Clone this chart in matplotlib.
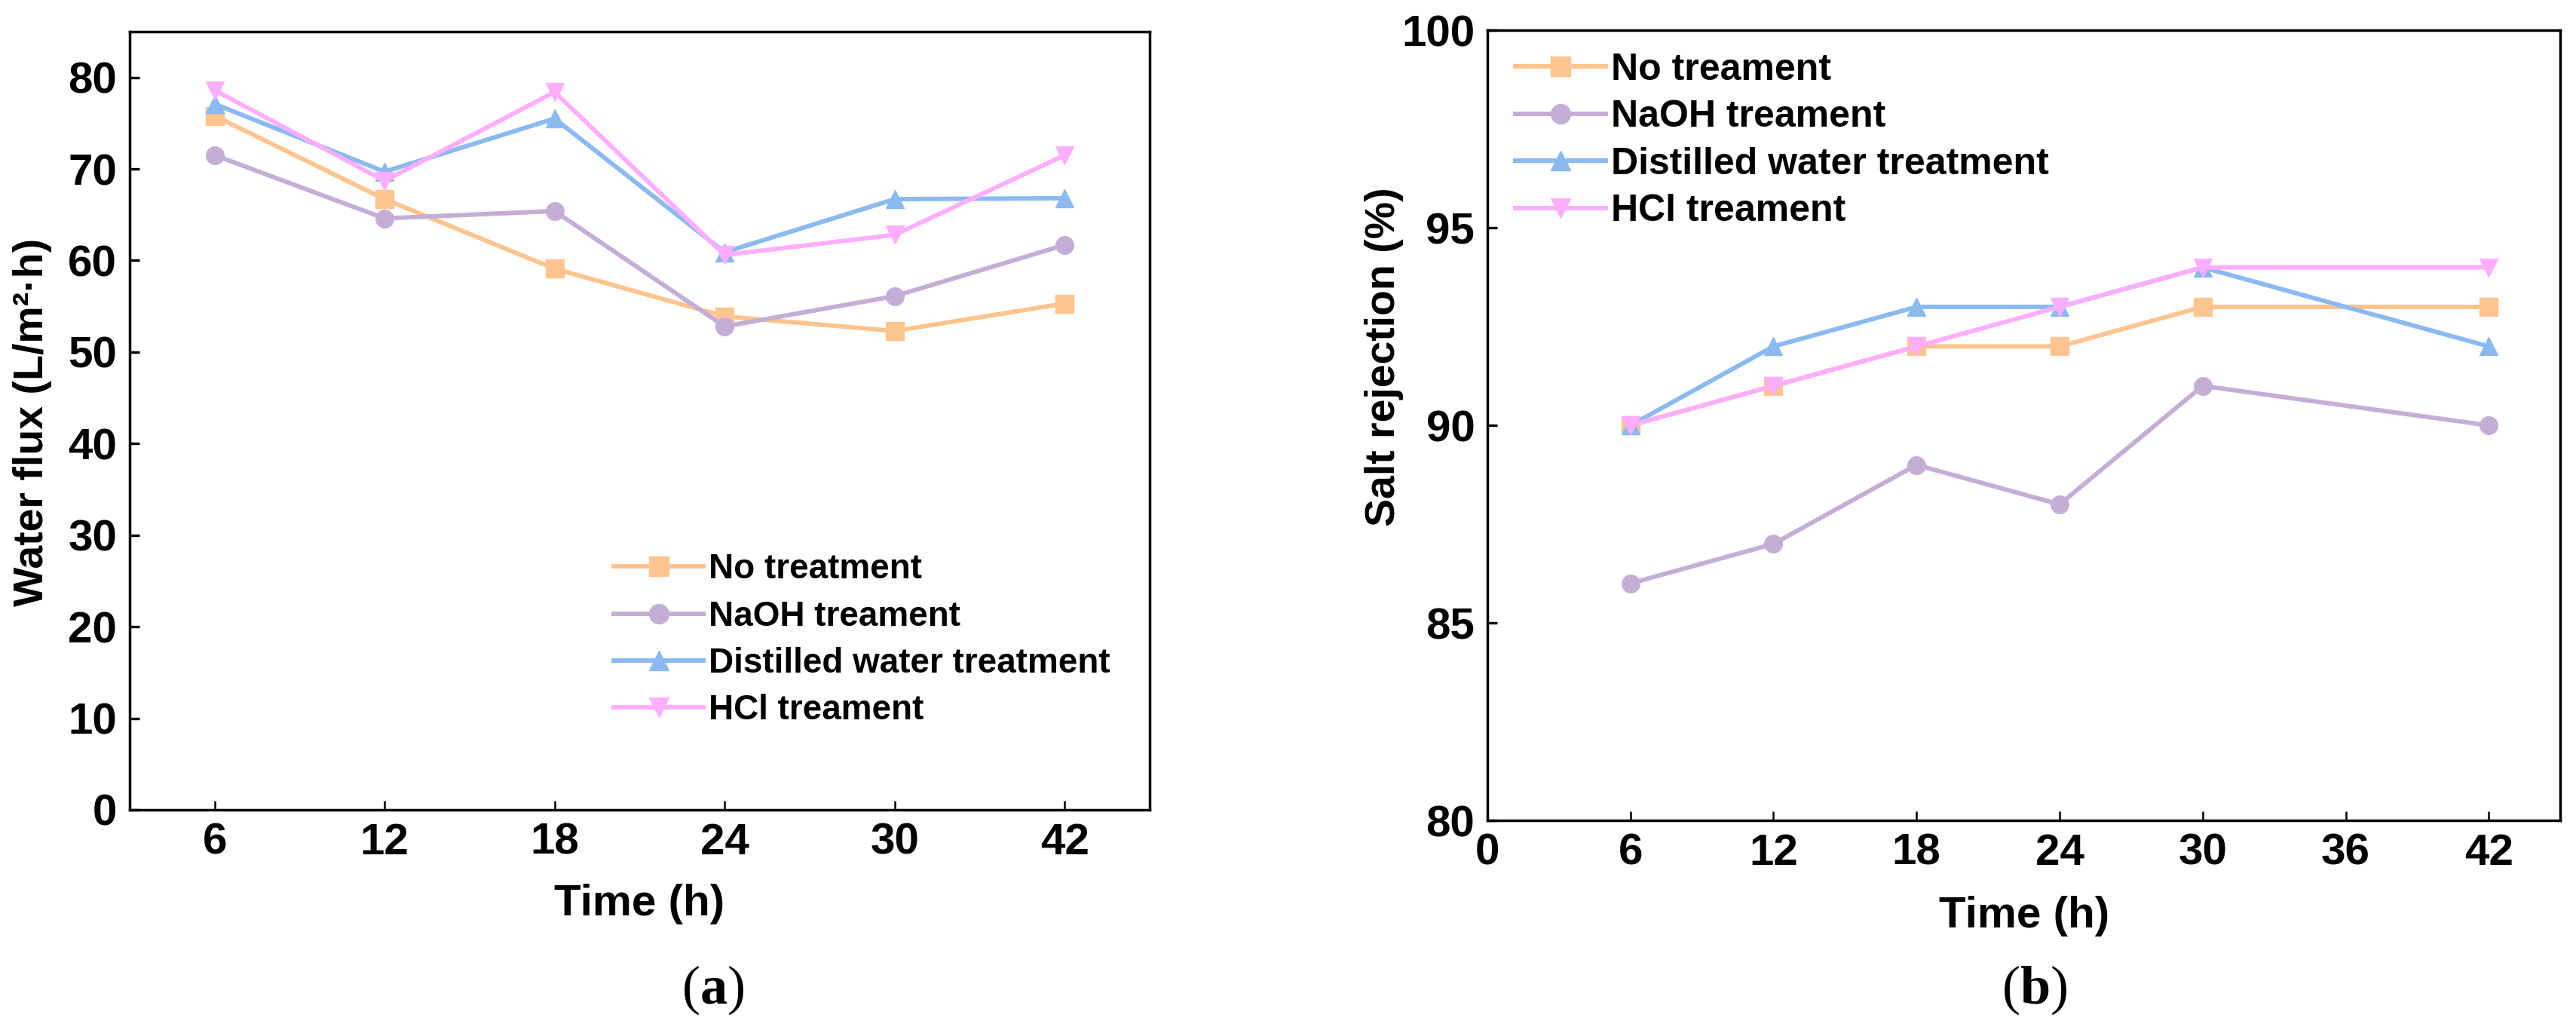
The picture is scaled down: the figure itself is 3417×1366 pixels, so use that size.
import matplotlib.pyplot as plt
import numpy as np

plt.rcParams['font.family'] = ['Liberation Sans']
plt.rcParams['font.weight'] = 'bold'
plt.rcParams['mathtext.fontset'] = 'custom'
plt.rcParams['mathtext.rm'] = 'Liberation Serif'
plt.rcParams['mathtext.bf'] = 'Liberation Serif:bold'

# time points (h)
time_a = ["6", "12", "18", "24", "30", "42"]
time_b = [6, 12, 18, 24, 30, 42]

# (a) water flux, L/m2 h
flux_none = [75.8, 66.7, 59.1, 53.9, 52.3, 55.3]
flux_naoh = [71.5, 64.6, 65.4, 52.8, 56.1, 61.7]
flux_dist = [77.1, 69.7, 75.5, 60.9, 66.7, 66.8]
flux_hcl = [78.6, 68.7, 78.4, 60.6, 62.8, 71.5]

# (b) salt rejection, %
rej_none = [90, 91, 92, 92, 93, 93]
rej_naoh = [86, 87, 89, 88, 91, 90]
rej_dist = [90, 92, 93, 93, 94, 92]
rej_hcl = [90, 91, 92, 93, 94, 94]

labels_a = ["No treatment", "NaOH treament", "Distilled water treatment", "HCl treament"]
labels_b = ["No treament", "NaOH treament", "Distilled water treatment", "HCl treament"]

colors = ["#FFC48F", "#C5AED6", "#8BBAF0", "#FFAEFF"]
markers = ["s", "o", "^", "v"]

fig = plt.figure(figsize=(34.17, 13.66), dpi=100)
ax1 = fig.add_axes([0.0503, 0.2138, 0.396, 0.7555])
ax2 = fig.add_axes([0.5774, 0.2035, 0.4165, 0.767])

xa = np.arange(len(time_a))
for ys, c, m, lab in zip([flux_none, flux_naoh, flux_dist, flux_hcl], colors, markers, labels_a):
    ax1.plot(xa, ys, color=c, marker=m, lw=4.3, ms=17, label=lab)

for ys, c, m, lab in zip([rej_none, rej_naoh, rej_dist, rej_hcl], colors, markers, labels_b):
    ax2.plot(time_b, ys, color=c, marker=m, lw=4.3, ms=17, label=lab)

ax1.set_xlim(-0.5, 5.5)
ax1.set_xticks(xa)
ax1.set_xticklabels(time_a)
ax1.set_ylim(0, 85)
ax1.set_yticks(np.arange(0, 81, 10))

ax2.set_xlim(0, 45)
ax2.set_xticks(np.arange(0, 43, 6))
ax2.set_ylim(80, 100)
ax2.set_yticks(np.arange(80, 101, 5))

for ax in (ax1, ax2):
    for s in ax.spines.values():
        s.set_linewidth(2.5)
    ax.tick_params(axis='both', direction='in', labelsize=42, pad=12)
    ax.tick_params(axis='y', length=9, width=2.4)
    ax.tick_params(axis='x', length=9, width=1.8)
    ax.set_xlabel("Time (h)", fontsize=42, fontweight='bold')

ax1.xaxis.set_label_coords(0.5, -0.095)
ax2.xaxis.set_label_coords(0.5, -0.095)

ax1.set_ylabel("Water flux (L/m²·h)", fontsize=40, fontweight='bold')
ax1.yaxis.set_label_coords(-0.076, 0.498)
ax2.set_ylabel("Salt rejection (%)", fontsize=40, fontweight='bold')
ax2.yaxis.set_label_coords(-0.078, 0.587)

ax1.legend(loc='upper left', bbox_to_anchor=(0.4745, 0.33), frameon=False,
           fontsize=33, handlelength=2.6, handletextpad=0.15, labelspacing=0.4,
           borderpad=0, borderaxespad=0, markerscale=1.1)
ax2.legend(loc='upper left', bbox_to_anchor=(0.026, 0.972), frameon=False,
           fontsize=36, handlelength=2.4, handletextpad=0.15, labelspacing=0.33,
           borderpad=0, borderaxespad=0, markerscale=1.1)

fig.text(946 / 3417, 1 - 1313 / 1366, r"($\mathbf{a}$)", fontsize=52, ha='center', va='center',
         family='Liberation Serif', fontweight='normal')
fig.text(2699 / 3417, 1 - 1313 / 1366, r"($\mathbf{b}$)", fontsize=52, ha='center', va='center',
         family='Liberation Serif', fontweight='normal')

fig.savefig("out.png", dpi=100)
